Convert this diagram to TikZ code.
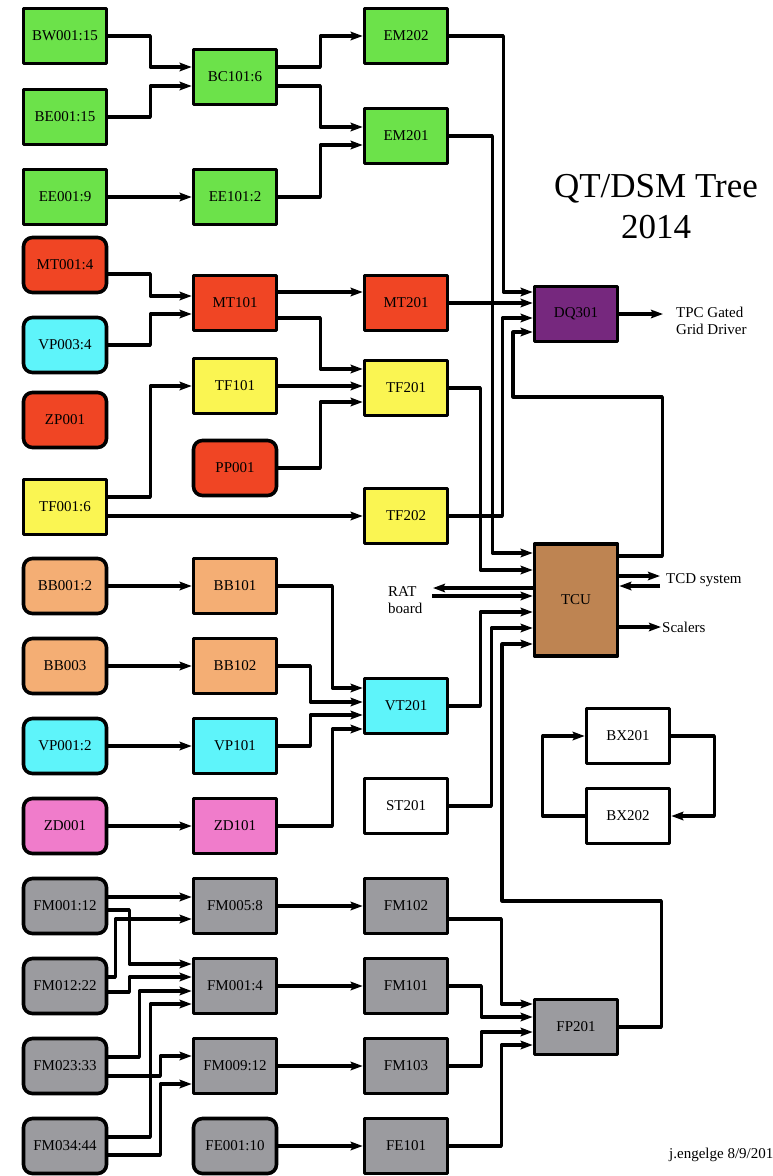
\documentclass[tikz,border=0pt]{standalone}
\usepackage{fontspec}
\setmainfont{Liberation Serif}
\usetikzlibrary{arrows.meta,calc}

\definecolor{dsmgreen}{HTML}{6CE24A}
\definecolor{dsmred}{HTML}{F04524}
\definecolor{dsmcyan}{HTML}{5EF4FA}
\definecolor{dsmyellow}{HTML}{FAF552}
\definecolor{dsmorange}{HTML}{F4AE74}
\definecolor{dsmpink}{HTML}{F07CCB}
\definecolor{dsmgray}{HTML}{9B9B9F}
\definecolor{dsmpurple}{HTML}{76287E}
\definecolor{dsmbrown}{HTML}{BE8452}

\begin{document}
\begin{tikzpicture}[
  x=1pt,
  y=-1pt,
  line join=round,
  box/.style={draw=black,line width=3.6pt,minimum width=83pt,minimum height=55pt,
    inner sep=0pt,font=\fontsize{15}{17}\selectfont},
  rbox/.style={box,rounded corners=9pt},
  wire/.style={draw=black,line width=3.2pt,-{Stealth[length=12pt,width=8.5pt,inset=2pt]}},
  note/.style={inner sep=1pt,font=\fontsize{15}{17}\selectfont}
]
  \useasboundingbox (0,0) rectangle (772,1176);

  % Title.
  \node[anchor=base,font=\fontsize{35}{41}\selectfont] (title) at (656,197) {QT/DSM Tree};
  \node[anchor=base,font=\fontsize{35}{41}\selectfont] (year) at (656,238) {2014};

  % First column: inputs.
  \node[box,fill=dsmgreen] (BW001) at (65,36) {BW001:15};
  \node[box,fill=dsmgreen] (BE001) at (65,117) {BE001:15};
  \node[box,fill=dsmgreen] (EE001) at (65,197) {EE001:9};
  \node[rbox,fill=dsmred] (MT001) at (65,265) {MT001:4};
  \node[rbox,fill=dsmcyan] (VP003) at (65,345) {VP003:4};
  \node[rbox,fill=dsmred] (ZP001) at (65,420) {ZP001};
  \node[box,fill=dsmyellow] (TF001) at (65,507) {TF001:6};
  \node[rbox,fill=dsmorange] (BB001) at (65,586) {BB001:2};
  \node[rbox,fill=dsmorange] (BB003) at (65,666) {BB003};
  \node[rbox,fill=dsmcyan] (VP001) at (65,746) {VP001:2};
  \node[rbox,fill=dsmpink] (ZD001) at (65,826) {ZD001};
  \node[rbox,fill=dsmgray] (FM001) at (65,906) {FM001:12};
  \node[rbox,fill=dsmgray] (FM012) at (65,986) {FM012:22};
  \node[rbox,fill=dsmgray] (FM023) at (65,1066) {FM023:33};
  \node[rbox,fill=dsmgray] (FM034) at (65,1146) {FM034:44};

  % Second column.
  \node[box,fill=dsmgreen] (BC101) at (235,77) {BC101:6};
  \node[box,fill=dsmgreen] (EE101) at (235,197) {EE101:2};
  \node[box,fill=dsmred] (MT101) at (235,303) {MT101};
  \node[box,fill=dsmyellow] (TF101) at (235,386) {TF101};
  \node[rbox,fill=dsmred] (PP001) at (235,468) {PP001};
  \node[box,fill=dsmorange] (BB101) at (235,586) {BB101};
  \node[box,fill=dsmorange] (BB102) at (235,666) {BB102};
  \node[box,fill=dsmcyan] (VP101) at (235,746) {VP101};
  \node[box,fill=dsmpink] (ZD101) at (235,826) {ZD101};
  \node[box,fill=dsmgray] (FM005) at (235,906) {FM005:8};
  \node[box,fill=dsmgray] (FM001b) at (235,986) {FM001:4};
  \node[box,fill=dsmgray] (FM009) at (235,1066) {FM009:12};
  \node[rbox,fill=dsmgray] (FE001) at (235,1146) {FE001:10};

  % Third column.
  \node[box,fill=dsmgreen] (EM202) at (406,36) {EM202};
  \node[box,fill=dsmgreen] (EM201) at (406,136) {EM201};
  \node[box,fill=dsmred] (MT201) at (406,303) {MT201};
  \node[box,fill=dsmyellow] (TF201) at (406,388) {TF201};
  \node[box,fill=dsmyellow] (TF202) at (406,516) {TF202};
  \node[box,fill=dsmcyan] (VT201) at (406,706) {VT201};
  \node[box,fill=white] (ST201) at (406,806) {ST201};
  \node[box,fill=dsmgray] (FM102) at (406,906) {FM102};
  \node[box,fill=dsmgray] (FM101) at (406,986) {FM101};
  \node[box,fill=dsmgray] (FM103) at (406,1066) {FM103};
  \node[box,fill=dsmgray] (FE101) at (406,1146) {FE101};

  % Top level.
  \node[box,fill=dsmpurple] (DQ301) at (576,314) {DQ301};
  \node[box,fill=dsmbrown,minimum height=112pt] (TCU) at (576,600) {TCU};
  \node[box,fill=dsmgray] (FP201) at (576,1027) {FP201};
  \node[box,fill=white] (BX201) at (628,736) {BX201};
  \node[box,fill=white] (BX202) at (628,816) {BX202};

  % Outside labels.
  \node[note,anchor=west,align=left] (tpc) at (675,321) {TPC Gated\\Grid Driver};
  \node[note,anchor=west,align=left] (rat) at (387,600) {RAT\\board};
  \node[note,anchor=west] (tcd) at (665,580) {TCD system};
  \node[note,anchor=west] (scalers) at (661,627) {Scalers};
  \node[note,anchor=west] (sign) at (668,1155) {j.engelge 8/9/201};

  \coordinate (tpcend) at (663,314);
  \coordinate (ratout) at (433,588);
  \coordinate (ratin) at (432,596);
  \coordinate (tcdout) at (660,576);
  \coordinate (tcdin) at (660,586);

  % Straight links.
  \foreach \a/\b in {EE001/EE101,BB001/BB101,BB003/BB102,VP001/VP101,ZD001/ZD101,
                     FM005/FM102,FM001b/FM101,FM009/FM103,FE001/FE101} {
    \draw[wire] (\a.east) -- (\b.west);
  }

  % Green trigger tree.
  \draw[wire] (BW001.east) -- ++(42,0) |- ($(BC101.west)+(0,-10)$);
  \draw[wire] (BE001.east) -- ++(42,0) |- ($(BC101.west)+(0,9)$);
  \draw[wire] ($(BC101.east)+(0,-10)$) -- ++(42,0) |- (EM202.west);
  \draw[wire] ($(BC101.east)+(0,9)$) -- ++(42,0) |- ($(EM201.west)+(0,-9)$);
  \draw[wire] (EE101.east) -- ++(42,0) |- ($(EM201.west)+(0,9)$);

  % MT / TF branch.
  \draw[wire] ($(MT001.east)+(0,9)$) -- ++(42,0) |- ($(MT101.west)+(0,-7)$);
  \draw[wire] (VP003.east) -- ++(42,0) |- ($(MT101.west)+(0,11)$);
  \draw[wire] ($(MT101.east)+(0,-11)$) -- ($(MT201.west)+(0,-11)$);
  \draw[wire] ($(MT101.east)+(0,15)$) -- ++(42,0) |- ($(TF201.west)+(0,-19)$);
  \draw[wire] (TF101.east) -- (TF101.east -| TF201.west);
  \draw[wire] (PP001.east) -- ++(42,0) |- ($(TF201.west)+(0,14)$);
  \draw[wire] ($(TF001.east)+(0,-10)$) -- ++(42,0) |- (TF101.west);
  \draw[wire] ($(TF001.east)+(0,9)$) -- (TF202.west);

  % BB / VP / ZD into VT201.
  \draw[wire] (BB101.east) -- ++(54,0) |- ($(VT201.west)+(0,-18)$);
  \draw[wire] (BB102.east) -- ++(32,0) |- ($(VT201.west)+(0,-4)$);
  \draw[wire] (VP101.east) -- ++(32,0) |- ($(VT201.west)+(0,9)$);
  \draw[wire] (ZD101.east) -- ++(54,0) |- ($(VT201.west)+(0,23)$);

  % FM fan-in.
  \draw[wire] ($(FM001.east)+(0,-9)$) -- ($(FM005.west)+(0,-9)$);
  \draw[wire] ($(FM001.east)+(0,4)$) -- ++(21,0) |- ($(FM001b.west)+(0,-22)$);
  \draw[wire] ($(FM012.east)+(0,-9)$) -- ++(7,0) |- ($(FM005.west)+(0,13)$);
  \draw[wire] ($(FM012.east)+(0,6)$) -- ++(21,0) |- ($(FM001b.west)+(0,-9)$);
  \draw[wire] ($(FM023.east)+(0,-9)$) -- ++(31,0) |- ($(FM001b.west)+(0,5)$);
  \draw[wire] ($(FM023.east)+(0,10)$) -- ++(52,0) |- ($(FM009.west)+(0,-10)$);
  \draw[wire] ($(FM034.east)+(0,-9)$) -- ++(42,0) |- ($(FM001b.west)+(0,18)$);
  \draw[wire] ($(FM034.east)+(0,9)$) -- ++(52,0) |- ($(FM009.west)+(0,18)$);

  \draw[wire] ($(FM102.east)+(0,13)$) -- ++(52,0) |- ($(FP201.west)+(0,-23)$);
  \draw[wire] (FM101.east) -- ++(32,0) |- ($(FP201.west)+(0,-10)$);
  \draw[wire] (FM103.east) -- ++(32,0) |- ($(FP201.west)+(0,5)$);
  \draw[wire] (FE101.east) -- ++(52,0) |- ($(FP201.west)+(0,18)$);

  % Into DQ301 and TCU.
  \draw[wire] (EM202.east) -- ++(54,0) |- ($(DQ301.west)+(0,-22)$);
  \draw[wire] (MT201.east) -- (MT201.east -| DQ301.west);
  \draw[wire] (TF202.east) -- ++(53,0) |- ($(DQ301.west)+(0,4)$);
  \draw[wire] ($(TCU.east)+(0,-44)$) -- ++(43,0) |- (513,397) |- ($(DQ301.west)+(0,18)$);
  \draw[wire] (DQ301.east) -- (tpcend);

  \draw[wire] (EM201.east) -- ++(43,0) |- ($(TCU.west)+(0,-47)$);
  \draw[wire] (TF201.east) -- ++(31,0) |- ($(TCU.west)+(0,-30)$);
  \draw[wire] (VT201.east) -- ++(31,0) |- ($(TCU.west)+(0,12)$);
  \draw[wire] (ST201.east) -- ++(42,0) |- ($(TCU.west)+(0,28)$);
  \draw[wire] (FP201.east) -- ++(42,0) |- (502,901) |- ($(TCU.west)+(0,44)$);

  % TCU outside links.
  \draw[wire] (TCU.west |- ratout) -- (ratout);
  \draw[wire] (ratin) -- (TCU.west |- ratin);
  \draw[wire] (TCU.east |- tcdout) -- (tcdout);
  \draw[wire] (tcdin) -- (TCU.east |- tcdin);
  \draw[wire] (TCU.east |- scalers.west) -- (scalers.west);

  % BX loop.
  \draw[wire] (BX201.east) -- ++(43,0) |- (BX202.east);
  \draw[wire] (BX202.west) -- ++(-42,0) |- (BX201.west);
\end{tikzpicture}
\end{document}
